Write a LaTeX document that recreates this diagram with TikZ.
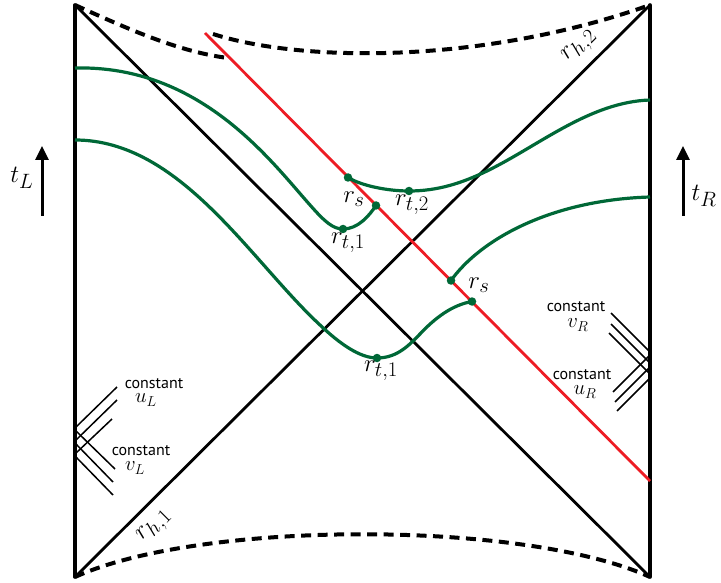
\documentclass[tikz,border=0pt]{standalone}
\usepackage{fontspec}
\newfontfamily\constfont{PT Sans}
\usetikzlibrary{arrows.meta}
\definecolor{dgreen}{RGB}{0,104,55}
\definecolor{bred}{RGB}{237,28,36}
\begin{document}
\begin{tikzpicture}[x=1pt,y=-1pt,
  bound/.style={line width=3.6pt, black, line cap=round},
  diag/.style={line width=2.8pt, black},
  sing/.style={line width=4pt, black, dash pattern=on 10pt off 6.5pt},
  brane/.style={line width=2.8pt, bred},
  geo/.style={line width=3.2pt, dgreen},
  gdot/.style={circle, fill=dgreen, inner sep=0pt, minimum size=8.5pt},
  cline/.style={line width=1.5pt, black},
  lab/.style={font=\fontsize{24.88}{30}\selectfont, inner sep=0pt},
  slab/.style={font=\fontsize{20.74}{25}\selectfont, inner sep=0pt},
  clab/.style={font=\constfont\fontsize{16}{18}\selectfont, inner sep=0pt},
  tarrow/.style={line width=3pt, -{Triangle[width=13pt,length=14pt]}}]
\useasboundingbox (0,0) rectangle (721,583);

% corners
\coordinate (TL) at (75,5);
\coordinate (TR) at (650,5);
\coordinate (BL) at (75,577);
\coordinate (BR) at (650,577);

% singularities
\draw[sing] (BL) .. controls (200,520) and (525,520) .. (BR);
\draw[sing] (TL) .. controls (130,30) and (180,52) .. (228,58);
\draw[sing] (213,34) .. controls (300,62) and (480,65) .. (TR);

% boundaries and horizons
\draw[bound] (TL) -- (BL);
\draw[bound] (TR) -- (BR);
\draw[diag] (TL) -- (BR);
\draw[diag] (BL) -- (TR);

% brane
\coordinate (B0) at (205,33);
\coordinate (B1) at (650,481);
\draw[brane] (B0) -- (B1);

% dots on the brane and turning points
\coordinate (s1) at (348,177.5);
\coordinate (e1) at (376,205.5);
\coordinate (s2) at (451,280.5);
\coordinate (e2) at (472,301.5);
\coordinate (t1a) at (343,229);
\coordinate (t2) at (409,191);
\coordinate (t1b) at (377,358);

% geodesics
\draw[geo] (75,68) .. controls (200,65) and (270,160) .. (310,205)
  .. controls (325,222) and (333,229) .. (t1a)
  .. controls (358,229) and (369,216) .. (e1);
\draw[geo] (s1) .. controls (362,186) and (388,191) .. (t2)
  .. controls (438,191) and (462,183) .. (487,171)
  .. controls (540,145) and (590,102) .. (650,100);
\draw[geo] (75,140) .. controls (180,140) and (250,260) .. (320,325)
  .. controls (340,344) and (360,358) .. (t1b)
  .. controls (398,358) and (410,344) .. (420,334)
  .. controls (435,318) and (452,305) .. (e2);
\draw[geo] (s2) .. controls (480,240) and (550,200) .. (650,197);

\foreach \p in {s1,e1,s2,e2,t1a,t2,t1b} \node[gdot] at (\p) {};

% labels
\node[lab] (ls1) at (354,199) {$r_s$};
\node[lab] (lt2) at (412,205) {$r_{t,2}$};
\node[lab] (lt1a) at (348,243) {$r_{t,1}$};
\node[lab] (ls2) at (479,285) {$r_s$};
\node[lab] (lt1b) at (381,371) {$r_{t,1}$};
\node[lab, rotate=45] (lh2) at (580,47) {$r_{h,2}$};
\node[lab, rotate=45] (lh1) at (155,527) {$r_{h,1}$};

% time arrows
\coordinate (aL0) at (42,216);
\coordinate (aL1) at (42,146);
\draw[tarrow] (aL0) -- (aL1);
\node[lab] (tL) at (22,178) {$t_L$};
\coordinate (aR0) at (683,216);
\coordinate (aR1) at (683,146);
\draw[tarrow] (aR0) -- (aR1);
\node[lab] (tR) at (704,196) {$t_R$};

% constant u_L / v_L lines
\draw[cline] (75,428) -- (117,387);
\draw[cline] (75,441) -- (117,400);
\draw[cline] (75,454) -- (112,419);
\draw[cline] (75,430) -- (115,469);
\draw[cline] (75,443) -- (113,482);
\draw[cline] (75,456) -- (113,495);
\node[clab] (cu) at (154,384) {constant};
\node[slab] (uL) at (146,400) {$u_L$};
\node[clab] (cv) at (141,451) {constant};
\node[slab] (vL) at (135,468) {$v_L$};

% constant v_R / u_R lines
\draw[cline] (611,313) -- (650,352);
\draw[cline] (611,324) -- (650,363);
\draw[cline] (609,333) -- (650,374);
\draw[cline] (613,392) -- (650,355);
\draw[cline] (615,402) -- (650,367);
\draw[cline] (617,411) -- (650,378);
\node[clab] (cvR) at (576,307) {constant};
\node[slab] (vR) at (578,325) {$v_R$};
\node[clab] (cuR) at (582,375) {constant};
\node[slab] (uR) at (585,392) {$u_R$};
\end{tikzpicture}
\end{document}
